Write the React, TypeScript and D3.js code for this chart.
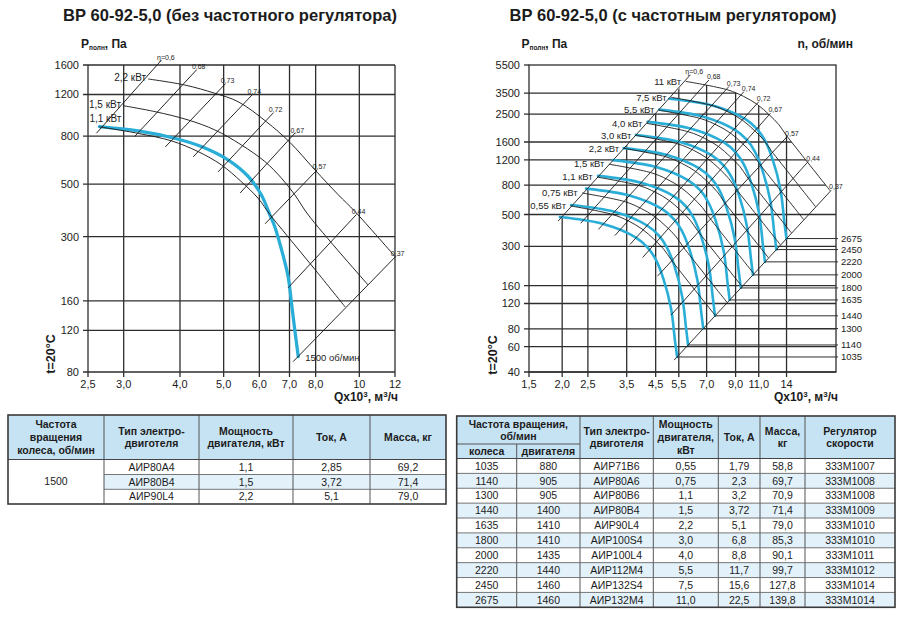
import React from "react";
import * as d3 from "d3";

type Pt = [number, number];

const FONT = "'Liberation Sans', Arial, Helvetica, sans-serif";
const BLUE = "#2aaed8";
const INK = "#1c1c1c";
const GRID = "#2e2e2e";

// ---------------- titles ----------------
const leftTitle = "ВР 60-92-5,0 (без частотного регулятора)";
const rightTitle = "ВР 60-92-5,0 (с частотным регулятором)";

// ---------------- axes ----------------
const leftXTicks = [2.5, 3, 4, 5, 6, 7, 8, 10, 12];
const leftXTickLabels = ["2,5", "3,0", "4,0", "5,0", "6,0", "7,0", "8,0", "10", "12"];
const leftYTicks = [1600, 1200, 800, 500, 300, 160, 120, 80];
const rightXTicks = [1.5, 2, 2.5, 3.5, 4.5, 5.5, 7, 9, 11, 14];
const rightXTickLabels = ["1,5", "2,0", "2,5", "3,5", "4,5", "5,5", "7,0", "9,0", "11,0", "14"];
const rightYTicks = [5500, 3500, 2500, 1600, 1200, 800, 500, 300, 160, 120, 80, 60, 40];

// ---------------- efficiency lines ----------------
const etaLabels = ["η=0,6", "0,68", "0,73", "0,74", "0,72", "0,67", "0,57", "0,44", "0,37"];
const leftEtaLow: Pt[] = [[2.61, 822], [3.17, 795], [3.71, 719], [4.28, 653], [4.86, 564], [5.44, 459], [6.18, 340], [6.95, 182], [7.13, 88.5]];
const leftEtaHigh: Pt[] = [[3.64, 1680], [4.35, 1524], [5.04, 1330], [5.78, 1194], [6.44, 1002], [7.2, 824], [8.06, 575], [9.84, 371], [12.02, 246]];
const rightEtaLow: Pt[] = [[1.93, 450], [2.35, 435], [2.74, 394], [3.16, 357], [3.6, 309], [4.02, 251], [4.57, 186], [5.14, 99.6], [5.28, 48.4]];
const rightEtaHigh: Pt[] = [[6.08, 4700], [7.14, 4325], [8.49, 3890], [9.67, 3586], [11.01, 3055], [12.18, 2537], [14.07, 1743], [16.9, 1170], [20.6, 735]];

// ---------------- left chart curves (Q x10^3 m3/h, P Pa) ----------------
const leftFanLabel = "1500 об/мин";
const leftFan1500: Pt[] = [[2.65, 877], [3.23, 841], [3.89, 783], [4.46, 722], [5.11, 634], [5.67, 539], [6.06, 451], [6.33, 371], [6.49, 331], [6.72, 264], [6.95, 203], [7.07, 157], [7.19, 121], [7.32, 93]];
const leftPower11: Pt[] = [[2.65, 875], [3.23, 821], [3.83, 763], [4.39, 687], [4.94, 604], [5.47, 513], [5.96, 436], [6.34, 371], [6.92, 302], [7.98, 217], [9.3, 151]];
const leftPower15: Pt[] = [[2.99, 1076], [3.52, 1015], [4.17, 936], [4.78, 849], [5.47, 734], [6.17, 624], [6.72, 530], [7.19, 451], [7.7, 371], [10.46, 187]];
const leftPower22: Pt[] = [[3.4, 1396], [4.1, 1316], [4.78, 1214], [5.38, 1119], [6.22, 920], [7.01, 753], [7.97, 575], [8.98, 451], [9.78, 383], [12.02, 246]];
const leftPowerLabels = ["1,1 кВт", "1,5 кВт", "2,2 кВт"];

// ---------------- right chart: fan curves per wheel speed ----------------
const rightRpmLabels = ["1035", "1140", "1300", "1440", "1635", "1800", "2000", "2220", "2450", "2675"];
const rightFan1035: Pt[] = [[1.96, 480], [2.88, 428], [3.78, 347], [4.19, 295], [4.48, 247], [4.8, 181], [5.14, 111], [5.32, 66.2], [5.42, 50.9]];
const rightFan1140: Pt[] = [[2.16, 582], [3.17, 520], [4.16, 421], [4.62, 358], [4.94, 299], [5.29, 220], [5.66, 135], [5.86, 80.3], [5.96, 61.7]];
const rightFan1300: Pt[] = [[2.46, 757], [3.61, 676], [4.75, 547], [5.27, 465], [5.63, 389], [6.03, 286], [6.46, 175], [6.68, 104], [6.8, 80.3]];
const rightFan1440: Pt[] = [[2.73, 929], [4.0, 829], [5.26, 672], [5.84, 571], [6.24, 478], [6.68, 351], [7.15, 215], [7.4, 128], [7.53, 98.5]];
const rightFan1635: Pt[] = [[3.1, 1197], [4.55, 1069], [5.97, 866], [6.63, 736], [7.08, 616], [7.58, 452], [8.12, 277], [8.4, 165], [8.55, 127]];
const rightFan1800: Pt[] = [[3.41, 1451], [5.0, 1296], [6.57, 1049], [7.29, 892], [7.8, 746], [8.35, 548], [8.94, 336], [9.25, 200], [9.42, 154]];
const rightFan2000: Pt[] = [[3.79, 1792], [5.56, 1600], [7.3, 1295], [8.1, 1101], [8.66, 921], [9.28, 676], [9.93, 415], [10.28, 247], [10.46, 190]];
const rightFan2220: Pt[] = [[4.2, 2208], [6.17, 1971], [8.11, 1596], [9.0, 1357], [9.62, 1135], [10.3, 833], [11.03, 511], [11.41, 305], [11.61, 234]];
const rightFan2450: Pt[] = [[4.64, 2689], [6.81, 2401], [8.95, 1944], [9.93, 1653], [10.61, 1383], [11.36, 1015], [12.17, 622], [12.59, 371], [12.82, 285]];
const rightFan2675: Pt[] = [[5.07, 3205], [7.44, 2862], [9.77, 2317], [10.84, 1970], [11.59, 1648], [12.41, 1210], [13.29, 742], [13.74, 442], [13.99, 340]];
const rightFans = [rightFan1035, rightFan1140, rightFan1300, rightFan1440, rightFan1635, rightFan1800, rightFan2000, rightFan2220, rightFan2450, rightFan2675];

// ---------------- right chart: motor power lines ----------------
const rightPowerLabels = ["0,55 кВт", "0,75 кВт", "1,1 кВт", "1,5 кВт", "2,2 кВт", "3,0 кВт", "4,0 кВт", "5,5 кВт", "7,5 кВт", "11 кВт"];
const rightPower055: Pt[] = [[2.15, 574], [3.1, 500], [3.55, 451], [4.0, 396], [4.43, 337], [4.83, 286], [5.14, 243], [5.6, 198], [7.54, 99.2]];
const rightPower075: Pt[] = [[2.38, 706], [3.44, 615], [3.94, 554], [4.44, 487], [4.92, 414], [5.36, 352], [5.7, 299], [6.21, 244], [8.36, 122]];
const rightPower11: Pt[] = [[2.71, 911], [3.91, 794], [4.48, 716], [5.04, 629], [5.59, 534], [6.08, 455], [6.47, 386], [7.06, 315], [9.5, 158]];
const rightPower15: Pt[] = [[3.0, 1121], [4.33, 977], [4.97, 880], [5.59, 773], [6.2, 657], [6.75, 559], [7.18, 475], [7.83, 387], [10.53, 194]];
const rightPower22: Pt[] = [[3.41, 1447], [4.92, 1261], [5.64, 1136], [6.36, 998], [7.04, 848], [7.67, 721], [8.15, 613], [8.89, 499], [11.96, 250]];
const rightPower30: Pt[] = [[3.79, 1780], [5.46, 1551], [6.26, 1398], [7.05, 1228], [7.81, 1043], [8.5, 887], [9.04, 754], [9.86, 614], [13.27, 308]];
const rightPower40: Pt[] = [[4.17, 2156], [6.01, 1879], [6.89, 1693], [7.76, 1488], [8.59, 1264], [9.36, 1075], [9.95, 913], [10.85, 744], [14.6, 373]];
const rightPower55: Pt[] = [[4.63, 2665], [6.68, 2322], [7.66, 2093], [8.63, 1839], [9.55, 1562], [10.4, 1329], [11.06, 1129], [12.07, 920], [16.24, 461]];
const rightPower75: Pt[] = [[5.14, 3278], [7.41, 2857], [8.49, 2574], [9.57, 2262], [10.6, 1922], [11.54, 1635], [12.27, 1389], [13.39, 1131], [18.01, 567]];
const rightPower110: Pt[] = [[5.84, 4230], [8.42, 3687], [9.65, 3322], [10.87, 2919], [12.04, 2480], [13.11, 2109], [13.94, 1792], [15.2, 1460], [20.46, 731]];
const rightPowers = [rightPower055, rightPower075, rightPower11, rightPower15, rightPower22, rightPower30, rightPower40, rightPower55, rightPower75, rightPower110];

// ---------------- tables ----------------
const leftTableHeader = [["Частота", "вращения", "колеса, об/мин"], ["Тип электро-", "двиготеля"], ["Мощность", "двигателя, кВт"], ["Ток, А"], ["Масса, кг"]];
const leftTableSpeed = "1500";
const leftTableMotor = ["АИР80А4", "АИР80В4", "АИР90L4"];
const leftTablePower = ["1,1", "1,5", "2,2"];
const leftTableCurrent = ["2,85", "3,72", "5,1"];
const leftTableMass = ["69,2", "71,4", "79,0"];

const rightTableGroupHeader = ["Частота вращения,", "об/мин"];
const rightTableSubHeader = ["колеса", "двигателя"];
const rightTableHeader = [["Тип электро-", "двиготеля"], ["Мощность", "двигателя,", "кВт"], ["Ток, А"], ["Масса,", "кг"], ["Регулятор", "скорости"]];
const rightTableWheel = ["1035", "1140", "1300", "1440", "1635", "1800", "2000", "2220", "2450", "2675"];
const rightTableMotorRpm = ["880", "905", "905", "1400", "1410", "1410", "1435", "1440", "1460", "1460"];
const rightTableMotor = ["АИР71В6", "АИР80А6", "АИР80В6", "АИР80В4", "АИР90L4", "АИР100S4", "АИР100L4", "АИР112М4", "АИР132S4", "АИР132М4"];
const rightTablePower = ["0,55", "0,75", "1,1", "1,5", "2,2", "3,0", "4,0", "5,5", "7,5", "11,0"];
const rightTableCurrent = ["1,79", "2,3", "3,2", "3,72", "5,1", "6,8", "8,8", "11,7", "15,6", "22,5"];
const rightTableMass = ["58,8", "69,7", "70,9", "71,4", "79,0", "85,3", "90,1", "99,7", "127,8", "139,8"];
const rightTableRegulator = ["333М1007", "333М1008", "333М1008", "333М1009", "333М1010", "333М1010", "333М1011", "333М1012", "333М1014", "333М1014"];

const HEAD_FILL = "#c6e3f4";
const ALT_FILL = "#e3f1fa";

function makeLine(x: d3.ScaleLogarithmic<number, number>, y: d3.ScaleLogarithmic<number, number>) {
  return d3
    .line<Pt>()
    .x((d) => x(d[0]))
    .y((d) => y(d[1]))
    .curve(d3.curveCatmullRom.alpha(0.5));
}

function AxisTitles({ px, qx, tx, ty }: { px: number; qx: number; tx: number; ty: number }) {
  return (
    <g fill={INK} fontWeight="bold">
      <text x={px} y={48} fontSize={12}>
        P<tspan fontSize={6.5} dy={1.5}>полн</tspan>
        <tspan dy={-1.5}>, Па</tspan>
      </text>
      <text x={qx} y={401} fontSize={12} textAnchor="end">
        Qx10<tspan fontSize={8} dy={-4}>3</tspan>
        <tspan dy={4}>, м</tspan>
        <tspan fontSize={8} dy={-4}>3</tspan>
        <tspan dy={4}>/ч</tspan>
      </text>
      <text transform={`translate(${tx},${ty}) rotate(-90)`} fontSize={12.5} textAnchor="middle">
        t=20°C
      </text>
    </g>
  );
}

function LeftChart() {
  const x = d3.scaleLog().domain([2.5, 12]).range([88, 395]);
  const y = d3.scaleLog().domain([80, 1600]).range([372, 65]);
  const line = makeLine(x, y);
  const [x0, x1] = x.range();
  const [y0, y1] = y.range();
  const powers = [leftPower11, leftPower15, leftPower22];
  const fanEnd = leftFan1500[leftFan1500.length - 1];
  return (
    <g>
      {leftXTicks.map((t, i) => (
        <line key={"lv" + i} x1={x(t)} x2={x(t)} y1={y0 + 5} y2={y1} stroke={GRID} strokeWidth={1.3} />
      ))}
      {leftYTicks.map((t, i) => (
        <line key={"lh" + i} x1={x0 - 5} x2={x1} y1={y(t)} y2={y(t)} stroke={GRID} strokeWidth={1.3} />
      ))}
      {leftYTicks.map((t, i) => (
        <text key={"lyl" + i} x={x0 - 9} y={y(t) + 4} fontSize={11} textAnchor="end" fill={INK}>
          {t}
        </text>
      ))}
      {leftXTicks.map((t, i) => (
        <text key={"lxl" + i} x={x(t)} y={y0 + 16} fontSize={11} textAnchor="middle" fill={INK}>
          {leftXTickLabels[i]}
        </text>
      ))}
      <path d={line(leftFan1500) || ""} fill="none" stroke={BLUE} strokeWidth={3.3} strokeLinecap="round" />
      {powers.map((p, i) => (
        <path key={"lp" + i} d={line(p) || ""} fill="none" stroke={INK} strokeWidth={0.95} />
      ))}
      {leftEtaLow.map((lo, i) => {
        const hi = leftEtaHigh[i];
        return (
          <g key={"le" + i}>
            <line x1={x(lo[0])} y1={y(lo[1])} x2={x(hi[0])} y2={y(hi[1])} stroke={INK} strokeWidth={0.95} />
            <text x={x(hi[0]) - 4.5} y={y(hi[1]) - 0.5} fontSize={7} fill={INK}>
              {etaLabels[i]}
            </text>
          </g>
        );
      })}
      <text x={x(powers[0][0][0]) + 22} y={y(powers[0][0][1]) - 5} fontSize={10} textAnchor="end" fill={INK}>
        {leftPowerLabels[0]}
      </text>
      {powers.slice(1).map((p, i) => (
        <text key={"lpl" + i} x={x(p[0][0]) - 2} y={y(p[0][1]) + 2.5} fontSize={10} textAnchor="end" fill={INK}>
          {leftPowerLabels[i + 1]}
        </text>
      ))}
      <text x={x(fanEnd[0]) + 7} y={y(fanEnd[1]) + 4} fontSize={9.5} fill={INK}>
        {leftFanLabel}
      </text>
      <AxisTitles px={81} qx={398} tx={55} ty={354} />
    </g>
  );
}

function RightChart() {
  const x = d3.scaleLog().domain([1.5, 21.5]).range([529, 836]);
  const y = d3.scaleLog().domain([40, 5500]).range([372, 65]);
  const line = makeLine(x, y);
  const [x0, x1] = x.range();
  const [y0, y1] = y.range();
  const topCurve = rightPower110;
  const tail = (line(topCurve) || "").replace(/^M/, "L");
  const s = topCurve[0];
  const e = topCurve[topCurve.length - 1];
  const e0 = rightEtaLow[0];
  const vClip = `M${x0},${y0 + 8}L${x0},${y(e0[1])}L${x(e0[0])},${y(e0[1])}L${x(s[0])},${y(s[1])}${tail}L${x1 + 4},${y(e[1])}L${x1 + 4},${y0 + 8}Z`;
  const hClip = `M${x0 - 8},${y0 + 3}L${x0 - 8},${y1 - 3}L${x(s[0])},${y1 - 3}L${x(s[0])},${y(s[1])}${tail}L${x1 + 4},${y(e[1])}L${x1 + 4},${y0 + 3}Z`;
  return (
    <g>
      <defs>
        <clipPath id="rvclip">
          <path d={vClip} />
        </clipPath>
        <clipPath id="rhclip">
          <path d={hClip} />
        </clipPath>
      </defs>
      <g clipPath="url(#rvclip)">
        {rightXTicks.slice(1).map((t, i) => (
          <line key={"rv" + i} x1={x(t)} x2={x(t)} y1={y0} y2={y1} stroke={GRID} strokeWidth={1.3} />
        ))}
      </g>
      <g clipPath="url(#rhclip)">
        {rightYTicks.slice(1).map((t, i) => (
          <line key={"rh" + i} x1={x0 - 5} x2={x1} y1={y(t)} y2={y(t)} stroke={GRID} strokeWidth={1.3} />
        ))}
      </g>
      {rightXTicks.map((t, i) => (
        <line key={"rxt" + i} x1={x(t)} x2={x(t)} y1={y0} y2={y0 + 5} stroke={GRID} strokeWidth={1.3} />
      ))}
      <line x1={x0 - 5} x2={x0} y1={y1} y2={y1} stroke={GRID} strokeWidth={1.3} />
      <rect x={x0} y={y1} width={x1 - x0} height={y0 - y1} fill="none" stroke={GRID} strokeWidth={1.3} />
      {rightYTicks.map((t, i) => (
        <text key={"ryl" + i} x={x0 - 9} y={y(t) + 4} fontSize={11} textAnchor="end" fill={INK}>
          {t}
        </text>
      ))}
      {rightXTicks.map((t, i) => (
        <text key={"rxl" + i} x={x(t)} y={y0 + 16} fontSize={11} textAnchor="middle" fill={INK}>
          {rightXTickLabels[i]}
        </text>
      ))}
      {rightFans.map((f, i) => (
        <path key={"rf" + i} d={line(f) || ""} fill="none" stroke={BLUE} strokeWidth={2.6} strokeLinecap="round" />
      ))}
      {rightPowers.map((p, i) => (
        <path key={"rp" + i} d={line(p) || ""} fill="none" stroke={INK} strokeWidth={0.9} />
      ))}
      {rightEtaLow.map((lo, i) => {
        const hi = rightEtaHigh[i];
        return (
          <g key={"re" + i}>
            <line x1={x(lo[0])} y1={y(lo[1])} x2={x(hi[0])} y2={y(hi[1])} stroke={INK} strokeWidth={0.9} />
            <text x={x(hi[0]) - (i === 0 ? 5 : 2)} y={y(hi[1]) - 1} fontSize={7} fill={INK}>
              {etaLabels[i]}
            </text>
          </g>
        );
      })}
      {rightPowers.map((p, i) => (
        <text key={"rpl" + i} x={x(p[0][0]) - 4.5} y={y(p[0][1]) + 3.3} fontSize={9.5} textAnchor="end" fill={INK}>
          {rightPowerLabels[i]}
        </text>
      ))}
      {rightFans.map((f, i) => {
        const end = f[f.length - 1];
        return (
          <g key={"rl" + i}>
            <line x1={x(end[0])} x2={x1 + 2} y1={y(end[1])} y2={y(end[1])} stroke={GRID} strokeWidth={1} />
            <text x={x1 + 5} y={y(end[1]) + 3.4} fontSize={9.5} fill={INK}>
              {rightRpmLabels[i]}
            </text>
          </g>
        );
      })}
      <text x={853} y={48} fontSize={12} fontWeight="bold" textAnchor="end" fill={INK}>
        n, об/мин
      </text>
      <AxisTitles px={521.5} qx={838} tx={496.5} ty={355} />
    </g>
  );
}

function HeaderText({ cx, cy, lines }: { cx: number; cy: number; lines: string[] }) {
  const step = 12.6;
  const first = cy - ((lines.length - 1) * step) / 2;
  return (
    <g>
      {lines.map((l, i) => (
        <text key={i} x={cx} y={first + i * step + 3.7} fontSize={10.5} fontWeight="bold" textAnchor="middle" fill={INK}>
          {l}
        </text>
      ))}
    </g>
  );
}

function LeftTable() {
  const cols = [8, 104, 199, 293, 370, 446];
  const top = 415;
  const head = 459.5;
  const rows = [459.5, 474.5, 489.3, 504];
  const bottom = rows[rows.length - 1];
  const bodyCols = [leftTableMotor, leftTablePower, leftTableCurrent, leftTableMass];
  return (
    <g>
      <rect x={cols[0]} y={top} width={cols[5] - cols[0]} height={head - top} fill={HEAD_FILL} />
      <rect x={cols[1]} y={rows[1]} width={cols[5] - cols[1]} height={rows[2] - rows[1]} fill={ALT_FILL} />
      {leftTableHeader.map((h, i) => (
        <HeaderText key={i} cx={(cols[i] + cols[i + 1]) / 2} cy={(top + head) / 2} lines={h} />
      ))}
      {cols.slice(1, -1).map((c, i) => (
        <line key={"c" + i} x1={c} x2={c} y1={top} y2={bottom} stroke="#555" strokeWidth={1} />
      ))}
      <line x1={cols[0]} x2={cols[5]} y1={head} y2={head} stroke="#444" strokeWidth={1.2} />
      {rows.slice(1, -1).map((r, i) => (
        <line key={"r" + i} x1={cols[1]} x2={cols[5]} y1={r} y2={r} stroke="#666" strokeWidth={0.9} />
      ))}
      <text x={(cols[0] + cols[1]) / 2} y={(head + bottom) / 2 + 3.7} fontSize={10.5} textAnchor="middle" fill={INK}>
        {leftTableSpeed}
      </text>
      {bodyCols.map((col, ci) =>
        col.map((v, ri) => (
          <text key={ci + "-" + ri} x={(cols[ci + 1] + cols[ci + 2]) / 2} y={(rows[ri] + rows[ri + 1]) / 2 + 3.7} fontSize={10.5} textAnchor="middle" fill={INK}>
            {v}
          </text>
        ))
      )}
      <rect x={cols[0]} y={top} width={cols[5] - cols[0]} height={bottom - top} fill="none" stroke="#3a3a3a" strokeWidth={1.6} />
    </g>
  );
}

function RightTable() {
  const cols = [456.7, 516.7, 580, 653.3, 718.3, 760, 805, 895];
  const top = 416;
  const mid = 444;
  const head = 458.5;
  const bottom = 607.3;
  const rowH = (bottom - head) / rightTableWheel.length;
  const bodyCols = [rightTableWheel, rightTableMotorRpm, rightTableMotor, rightTablePower, rightTableCurrent, rightTableMass, rightTableRegulator];
  return (
    <g>
      <rect x={cols[0]} y={top} width={cols[7] - cols[0]} height={head - top} fill={HEAD_FILL} />
      {rightTableWheel.map((_, ri) =>
        ri % 2 === 1 ? (
          <rect key={"alt" + ri} x={cols[0]} y={head + ri * rowH} width={cols[7] - cols[0]} height={rowH} fill={ALT_FILL} />
        ) : null
      )}
      <HeaderText cx={(cols[0] + cols[2]) / 2} cy={(top + mid) / 2 + 0.2} lines={rightTableGroupHeader} />
      {rightTableSubHeader.map((h, i) => (
        <HeaderText key={"sh" + i} cx={(cols[i] + cols[i + 1]) / 2} cy={(mid + head) / 2} lines={[h]} />
      ))}
      {rightTableHeader.map((h, i) => (
        <HeaderText key={"h" + i} cx={(cols[i + 2] + cols[i + 3]) / 2} cy={(top + head) / 2} lines={h} />
      ))}
      <line x1={cols[1]} x2={cols[1]} y1={mid} y2={bottom} stroke="#555" strokeWidth={1} />
      {cols.slice(2, -1).map((c, i) => (
        <line key={"c" + i} x1={c} x2={c} y1={top} y2={bottom} stroke="#555" strokeWidth={1} />
      ))}
      <line x1={cols[0]} x2={cols[2]} y1={mid} y2={mid} stroke="#555" strokeWidth={1} />
      <line x1={cols[0]} x2={cols[7]} y1={head} y2={head} stroke="#444" strokeWidth={1.2} />
      {rightTableWheel.slice(1).map((_, ri) => (
        <line key={"r" + ri} x1={cols[0]} x2={cols[7]} y1={head + (ri + 1) * rowH} y2={head + (ri + 1) * rowH} stroke="#666" strokeWidth={0.9} />
      ))}
      {bodyCols.map((col, ci) =>
        col.map((v, ri) => (
          <text key={ci + "-" + ri} x={(cols[ci] + cols[ci + 1]) / 2} y={head + (ri + 0.5) * rowH + 3.7} fontSize={10.5} textAnchor="middle" fill={INK}>
            {v}
          </text>
        ))
      )}
      <rect x={cols[0]} y={top} width={cols[7] - cols[0]} height={bottom - top} fill="none" stroke="#3a3a3a" strokeWidth={1.6} />
    </g>
  );
}

export default function App() {
  return (
    <svg
      width={900}
      height={617}
      viewBox="0 0 900 617"
      style={{ position: "absolute", left: 0, top: 0, background: "#fff" }}
      fontFamily={FONT}
    >
      <rect width={900} height={617} fill="#fff" />
      <text x={230} y={21} textAnchor="middle" fontSize={17} fontWeight="bold" fill={INK} textLength={334} lengthAdjust="spacingAndGlyphs">
        {leftTitle}
      </text>
      <text x={673} y={21} textAnchor="middle" fontSize={17} fontWeight="bold" fill={INK} textLength={327} lengthAdjust="spacingAndGlyphs">
        {rightTitle}
      </text>
      <LeftChart />
      <RightChart />
      <LeftTable />
      <RightTable />
    </svg>
  );
}
